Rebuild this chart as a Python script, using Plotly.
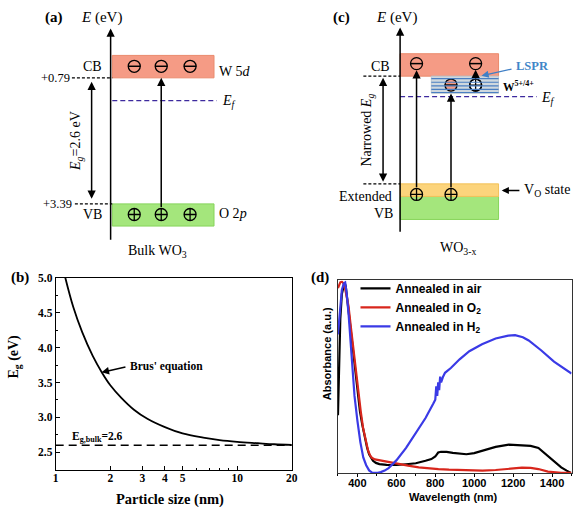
import plotly.graph_objects as go
import numpy as np

SERIF = "Liberation Serif"
SANS = "Liberation Sans"

# ---------------- panel (b) data ----------------
size_nm = [1.13, 1.25, 1.4, 1.6, 1.8, 2.0, 2.3, 2.7, 3.2, 4.0, 5.0, 6.5, 8.0, 10, 13, 16, 20]
eg_ev = [5.00, 4.58, 4.22, 3.88, 3.64, 3.46, 3.28, 3.11, 2.98, 2.86, 2.77, 2.71, 2.675, 2.65, 2.63, 2.615, 2.607]
eg_bulk = 2.6
b_xticks = [1, 2, 3, 4, 5, 10, 20]
b_yticks = [2.5, 3.0, 3.5, 4.0, 4.5, 5.0]

# ---------------- panel (d) data ----------------
air_wl = [300, 305, 312, 320, 328, 334, 340, 350, 362, 375, 387, 400, 413, 425, 438, 450, 460, 470, 480, 495, 513,
          550, 600, 650, 700, 750, 780, 800, 815, 830, 858, 890, 925, 960, 1000, 1043, 1110, 1178, 1245, 1290, 1330,
          1379, 1420, 1447, 1475, 1497]
air_abs = [0.30, 0.55, 0.80, 0.93, 0.975, 0.99, 0.97, 0.88, 0.75, 0.63, 0.525, 0.42, 0.32, 0.25, 0.183, 0.13, 0.097,
           0.078, 0.063, 0.052, 0.046, 0.042, 0.041, 0.045, 0.05, 0.063, 0.072, 0.085, 0.106, 0.11, 0.109, 0.104, 0.1,
           0.097, 0.103, 0.115, 0.135, 0.147, 0.144, 0.14, 0.13, 0.089, 0.05, 0.029, 0.012, 0.0]
o2_wl = [300, 306, 312, 320, 328, 336, 345, 354, 366, 379, 392, 404, 417, 429, 442, 455, 466, 476, 490, 510, 530, 570,
         614, 660, 715, 760, 816, 870, 925, 980, 1043, 1110, 1178, 1245, 1290, 1330, 1379, 1420, 1447, 1500]
o2_abs = [0.96, 0.975, 0.99, 0.993, 0.985, 0.96, 0.91, 0.867, 0.76, 0.644, 0.525, 0.405, 0.32, 0.234, 0.17, 0.115,
          0.09, 0.077, 0.07, 0.066, 0.063, 0.054, 0.046, 0.038, 0.029, 0.024, 0.02, 0.017, 0.015, 0.013, 0.012, 0.015,
          0.022, 0.027, 0.026, 0.02, 0.007, 0.002, 0.0, 0.0]
h2_wl = [300, 310, 320, 330, 337, 345, 355, 370, 385, 400, 415, 430, 445, 460, 475, 490, 505, 520, 540, 560, 600, 650,
         700, 750, 790, 800, 805, 810, 815, 820, 825, 830, 840, 850, 880, 925, 975, 1040, 1110, 1175, 1210, 1250, 1280,
         1345, 1410, 1460, 1500]
h2_abs = [0.72, 0.86, 0.95, 0.985, 0.99, 0.93, 0.82, 0.61, 0.40, 0.27, 0.16, 0.08, 0.04, 0.013, 0.002, 0.0, 0.0,
          0.004, 0.012, 0.025, 0.065, 0.13, 0.205, 0.285, 0.36, 0.38, 0.45, 0.40, 0.47, 0.43, 0.50, 0.47, 0.50, 0.52,
          0.545, 0.59, 0.632, 0.668, 0.698, 0.713, 0.716, 0.705, 0.688, 0.636, 0.578, 0.545, 0.516]
d_xticks = [400, 600, 800, 1000, 1200, 1400]

# ---------------- schematic level data (eV) ----------------
cb_a = 0.79
vb_a = 3.39
PXEV = 49.06


def ev(py):
    # vertical position in the schematic canvas (pixel row -> eV)
    return cb_a + (py - 72.7) / PXEV


a_levels = dict(cb_top=ev(50), cb=cb_a, ef=ev(95.7), vb=vb_a, vb_bot=ev(222.7))
c_levels = dict(cb_top=ev(48.3), cb=ev(71), w_bot=ev(88.3), ef=ev(91.7), vo=ev(180), vb=ev(192.7), vb_bot=ev(216))

fig = go.Figure()

# panel (b)
fig.add_trace(go.Scatter(x=size_nm, y=eg_ev, mode="lines", line=dict(color="black", width=1.8, shape="spline"),
                         xaxis="x", yaxis="y", showlegend=False))
fig.add_trace(go.Scatter(x=[1, 20], y=[eg_bulk, eg_bulk], mode="lines",
                         line=dict(color="black", width=1.6, dash="8px,5px"),
                         xaxis="x", yaxis="y", showlegend=False))

# panel (d)
fig.add_trace(go.Scatter(x=air_wl, y=air_abs, mode="lines", name="<b>Annealed in air</b>",
                         line=dict(color="black", width=2.2), xaxis="x2", yaxis="y2"))
fig.add_trace(go.Scatter(x=o2_wl, y=o2_abs, mode="lines", name="<b>Annealed in O<sub>2</sub></b>",
                         line=dict(color="#d8261c", width=2.2), xaxis="x2", yaxis="y2"))
fig.add_trace(go.Scatter(x=h2_wl, y=h2_abs, mode="lines", name="<b>Annealed in H<sub>2</sub></b>",
                         line=dict(color="#3a3ae6", width=2.2), xaxis="x2", yaxis="y2"))

shapes = []
ann = []


def rect(x0, x1, y0, y1, fill, line):
    shapes.append(dict(type="rect", xref="x3", yref="y3", x0=x0, x1=x1, y0=y0, y1=y1,
                       fillcolor=fill, line=dict(color=line, width=1), layer="below"))


def hline(x0, x1, y, color, dash, width=1.3):
    shapes.append(dict(type="line", xref="x3", yref="y3", x0=x0, x1=x1, y0=y, y1=y,
                       line=dict(color=color, width=width, dash=dash)))


def arrow(x, y_tail, y_tip, both=False, x_tail=None, color="black", width=1.5):
    ann.append(dict(xref="x3", yref="y3", axref="x3", ayref="y3", x=x, y=y_tip,
                    ax=x if x_tail is None else x_tail, ay=y_tail, showarrow=True, arrowhead=2,
                    arrowsize=1.1, arrowwidth=width, arrowcolor=color, text="",
                    arrowside="end+start" if both else "end", startarrowhead=2, startarrowsize=1.1,
                    standoff=0, startstandoff=0))


def text(x, y, t, size=14, anchor="center", family=SERIF, color="black", angle=0):
    ann.append(dict(xref="x3", yref="y3", x=x, y=y, text=t, showarrow=False, xanchor=anchor, yanchor="middle",
                    font=dict(family=family, size=size, color=color), textangle=angle))


RED_FILL, RED_LINE = "#f59b85", "#ea8a6c"
GREEN_FILL, GREEN_LINE = "#a4e67c", "#86d45a"
YEL_FILL, YEL_LINE = "#fcd47c", "#f2c25a"
EF_COL = "#3d2a9e"

# ---------- panel (a) ----------
rect(111, 214.3, a_levels["cb_top"], a_levels["cb"], RED_FILL, RED_LINE)
rect(111, 214.3, a_levels["vb"], a_levels["vb_bot"], GREEN_FILL, GREEN_LINE)
hline(70, 111, a_levels["cb"], "black", "3px,2px", 1.2)
hline(73, 111, a_levels["vb"], "black", "3px,2px", 1.2)
hline(111, 217, a_levels["ef"], EF_COL, "5px,3px", 1.3)
arrow(109.3, ev(238), ev(22.7))
arrow(90, ev(196.7), ev(76.7), both=True)
arrow(160.7, ev(205), a_levels["cb"])
text(51.7, ev(12), "<b>(a)</b>", 15)
text(100, ev(12), "<i>E</i> (eV)", 15)
text(91, ev(61), "CB", 14)
text(91, ev(211), "VB", 14)
text(70, a_levels["cb"], "+0.79", 12.5, "right")
text(72, a_levels["vb"], "+3.39", 12.5, "right")
text(74, ev(136.7), "<i>E<sub>g</sub></i>=2.6 eV", 14, angle=-90)
text(220, ev(97), "<i>E<sub>f</sub></i>", 14, "left")
text(217, ev(66), "W 5<i>d</i>", 14, "left")
text(217, ev(210), "O 2<i>p</i>", 14, "left")
text(156.7, ev(248), "Bulk WO<sub>3</sub>", 14)

a_carrier_x = [133.3, 160.7, 190]

# ---------- panel (c) ----------
rect(403.3, 503.3, c_levels["cb_top"], c_levels["cb"], RED_FILL, RED_LINE)
rect(435, 503.3, c_levels["cb"], c_levels["w_bot"], "#cfd8de", "#b9c6d0")
for py in [73.5, 77.2, 80.8, 84.4, 87.6]:
    hline(435, 503.3, ev(py), "#4a7fc2", "solid", 1.1)
rect(403.3, 503.3, c_levels["vb"], c_levels["vb_bot"], GREEN_FILL, GREEN_LINE)
rect(403.3, 503.3, c_levels["vo"], c_levels["vb"], YEL_FILL, YEL_LINE)
hline(366, 403.3, c_levels["cb"], "black", "3px,2px", 1.2)
hline(366, 403.3, c_levels["vo"], "black", "3px,2px", 1.2)
hline(403.3, 542, c_levels["ef"], EF_COL, "5px,3px", 1.3)
arrow(403.3, ev(230), ev(21.7))
arrow(386, ev(179.3), ev(72.7), both=True)
arrow(420, ev(185), ev(65))
arrow(455, ev(185), ev(88.5))
arrow(480, ev(75), ev(64.5))
arrow(486, ev(63.5), ev(70.5), x_tail=518, color="#3f7fc6", width=1.3)
arrow(506.5, ev(186.7), ev(186.7), x_tail=526, width=1.3)
text(343.3, ev(12), "<b>(c)</b>", 15)
text(399.5, ev(12), "<i>E</i> (eV)", 15)
text(383.3, ev(61), "CB", 14)
text(370, ev(125.8), "Narrowed <i>E<sub>g</sub></i>", 14, angle=-90)
text(368.3, ev(192.3), "Extended", 14)
text(386.7, ev(210), "VB", 14)
text(519, ev(61), "<b>LSPR</b>", 12.5, "left", color="#3f86c8")
text(506, ev(81), "<b>W<sup>5+/4+</sup></b>", 11.5, "left")
text(544, ev(94), "<i>E<sub>f</sub></i>", 14, "left")
text(527, ev(186.7), "V<sub>O</sub> state", 14, "left")
text(461.7, ev(245), "WO<sub>3-x</sub>", 14)

c_elec_x = [420, 480]
c_hole_x = [420, 455]

# carriers: electrons (circle with minus) and holes (circle with plus)
elec_x = a_carrier_x + c_elec_x
elec_y = [ev(61)] * 3 + [ev(58.3)] * 2
fig.add_trace(go.Scatter(x=elec_x, y=elec_y, mode="markers", xaxis="x3", yaxis="y3", showlegend=False,
                         marker=dict(symbol="circle-open", size=12, color="black",
                                     line=dict(color="black", width=1.3))))
fig.add_trace(go.Scatter(x=[455], y=[ev(80)], mode="markers", xaxis="x3", yaxis="y3", showlegend=False,
                         marker=dict(symbol="circle", size=12, color=RED_FILL, line=dict(color="black", width=1.3))))
fig.add_trace(go.Scatter(x=[480], y=[ev(80)], mode="markers", xaxis="x3", yaxis="y3", showlegend=False,
                         marker=dict(symbol="circle", size=12, color="white", line=dict(color="black", width=1.3))))
fig.add_trace(go.Scatter(x=elec_x + [455], y=elec_y + [ev(80)], mode="markers", xaxis="x3", yaxis="y3",
                         showlegend=False,
                         marker=dict(symbol="line-ew", size=9, color="black",
                                     line=dict(color="black", width=1.5))))
hole_x = a_carrier_x + c_hole_x + [480]
hole_y = [ev(211)] * 3 + [ev(190.7)] * 2 + [ev(80)]
fig.add_trace(go.Scatter(x=hole_x, y=hole_y, mode="markers", xaxis="x3", yaxis="y3", showlegend=False,
                         marker=dict(symbol="circle-cross-open", size=12, color="black",
                                     line=dict(color="black", width=1.3))))

# ---------- panel labels / axis titles for b and d ----------
def pann(x, y, t, size, family, angle=0, anchor="center"):
    ann.append(dict(xref="paper", yref="paper", x=x / 585, y=1 - y / 507, text=t, showarrow=False,
                    xanchor=anchor, yanchor="middle", textangle=angle,
                    font=dict(family=family, size=size, color="black")))


pann(17, 275, "<b>(b)</b>", 15, SERIF)
pann(12, 355, "<b>E<sub>g</sub> (eV)</b>", 14, SERIF, angle=-90)
pann(170, 499, "<b>Particle size (nm)</b>", 14.5, SERIF)
pann(322, 275, "<b>(d)</b>", 15, SERIF)
pann(328.5, 352, "<b>Absorbance (a.u.)</b>", 11, SANS, angle=-90)
pann(458, 497, "<b>Wavelength (nm)</b>", 11, SANS)

# Brus annotation in panel b
ann.append(dict(xref="x", yref="y", x=np.log10(1.79), y=3.645, ax=np.log10(2.47), ay=3.725,
                axref="x", ayref="y", showarrow=True, arrowhead=2, arrowsize=1, arrowwidth=1.5,
                arrowcolor="black", text=""))
ann.append(dict(xref="x", yref="y", x=np.log10(2.5), y=3.73, text="<b>Brus' equation</b>", showarrow=False,
                xanchor="left", font=dict(family=SERIF, size=11.5, color="black")))
ann.append(dict(xref="x", yref="y", x=np.log10(1.2), y=2.72, text="<b>E<sub>g,bulk</sub>=2.6</b>",
                showarrow=False, xanchor="left", font=dict(family=SERIF, size=11.5, color="black")))

b_tickfont = dict(family=SERIF, size=11.5, color="black", weight="bold")
d_tickfont = dict(family=SANS, size=11, color="black", weight="bold")

fig.update_layout(
    width=585, height=507, margin=dict(l=0, r=0, t=0, b=0),
    paper_bgcolor="white", plot_bgcolor="rgba(0,0,0,0)",
    shapes=shapes, annotations=ann,
    xaxis=dict(type="log", domain=[53.5 / 585, 293.3 / 585], anchor="y", range=[0, np.log10(20)],
               tickvals=b_xticks, ticktext=[str(v) for v in b_xticks], ticks="inside", ticklen=4,
               minor=dict(tickvals=[6, 7, 8, 9], ticks="inside", ticklen=2, tickcolor="black"),
               showline=True, mirror=True, linecolor="black", linewidth=1, showgrid=False, zeroline=False,
               tickfont=b_tickfont, tickcolor="black", ticklabelstandoff=-3),
    yaxis=dict(domain=[1 - 469.3 / 507, 1 - 275 / 507], anchor="x", range=[2.25, 5.0],
               tickvals=b_yticks, ticktext=["%.1f" % v for v in b_yticks], ticks="inside", ticklen=4,
               minor=dict(dtick=0.25, ticks="inside", ticklen=2, tickcolor="black"),
               showline=True, mirror=True, linecolor="black", linewidth=1, showgrid=False, zeroline=False,
               tickfont=b_tickfont, tickcolor="black"),
    xaxis2=dict(domain=[340.2 / 585, 577.4 / 585], anchor="y2", range=[300, 1500],
                tickvals=d_xticks, ticks="outside", ticklen=3, tickcolor="black",
                minor=dict(dtick=100, ticks="outside", ticklen=2, tickcolor="black"),
                showline=True, mirror=True, linecolor="#333", linewidth=1, showgrid=False, zeroline=False,
                tickfont=d_tickfont, ticklabelstandoff=-3),
    yaxis2=dict(domain=[1 - 472.5 / 507, 1 - 277.7 / 507], anchor="x2", range=[0, 1.0],
                showticklabels=False, ticks="", showline=True, mirror=True, linecolor="#333", linewidth=1,
                showgrid=False, zeroline=False),
    xaxis3=dict(domain=[0, 1], anchor="y3", range=[0, 585], visible=False, fixedrange=True),
    yaxis3=dict(domain=[1 - 255 / 507, 1], anchor="x3", range=[ev(255), ev(0)], visible=False, fixedrange=True),
    legend=dict(x=358 / 585, y=1 - 271 / 507, xanchor="left", yanchor="top", bgcolor="rgba(0,0,0,0)",
                font=dict(family=SANS, size=12, color="black"), tracegroupgap=0, itemwidth=30),
)

fig.write_html("out.html", config={"displayModeBar": False},
               post_script="document.body.style.margin='0px';")
